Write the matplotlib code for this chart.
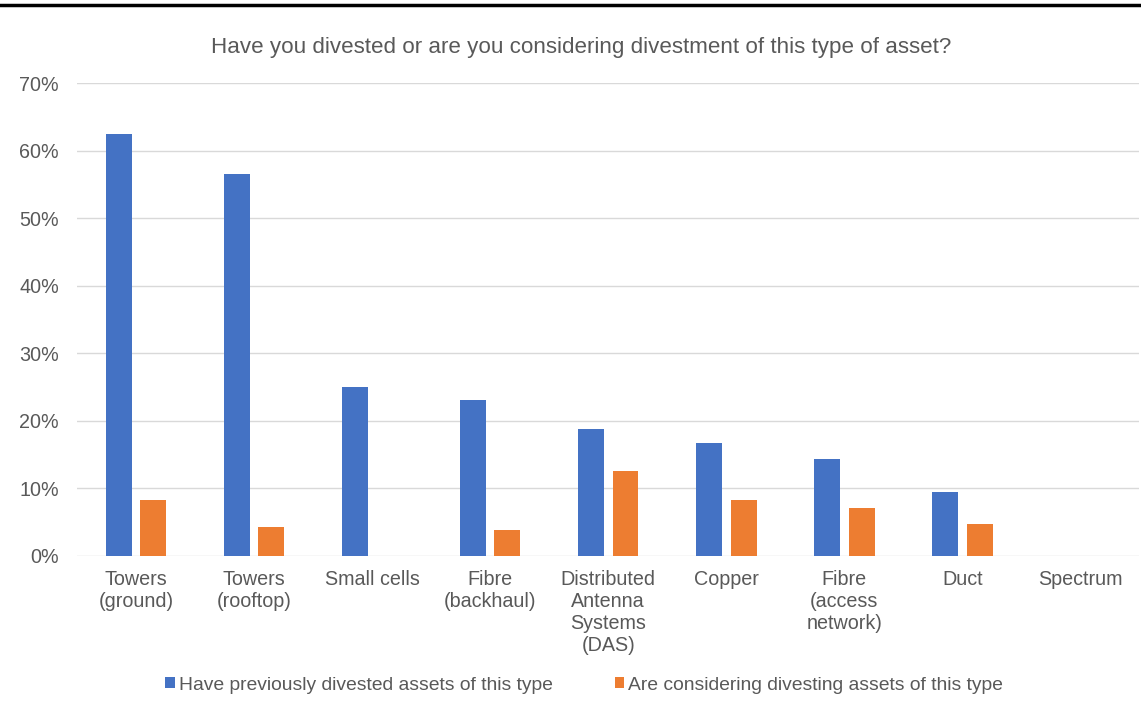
import numpy as np
import matplotlib.pyplot as plt
from matplotlib.lines import Line2D
from matplotlib.ticker import PercentFormatter

plt.rcParams['font.family'] = ['Liberation Sans', 'DejaVu Sans']

# survey results, percent of respondents
categories = ["Towers\n(ground)", "Towers\n(rooftop)", "Small cells", "Fibre\n(backhaul)",
              "Distributed\nAntenna\nSystems\n(DAS)", "Copper", "Fibre\n(access\nnetwork)",
              "Duct", "Spectrum"]
divested = [62.5, 56.5, 25.0, 23.1, 18.75, 16.7, 14.3, 9.5, 0.0]
considering = [8.3, 4.3, 0.0, 3.8, 12.5, 8.3, 7.1, 4.7, 0.0]

grey = '#595959'
blue = '#4472C4'
orange = '#ED7D31'

fig = plt.figure(figsize=(11.41, 7.22), dpi=100)
ax = fig.add_axes([0.0675, 0.23, 0.931, 0.655])

x = np.arange(len(categories))
w = 0.22
ax.bar(x - 0.147, divested, w, color=blue, label='Have previously divested assets of this type', zorder=3)
ax.bar(x + 0.147, considering, w, color=orange, label='Are considering divesting assets of this type', zorder=3)

ax.set_xlim(-0.5, len(categories) - 0.5)
ax.set_ylim(0, 70)
ax.set_yticks(np.arange(0, 71, 10))
ax.yaxis.set_major_formatter(PercentFormatter(decimals=0))
ax.set_xticks(x)
ax.set_xticklabels(categories, linespacing=1.2)
ax.tick_params(axis='both', length=0, labelsize=14.2, labelcolor=grey)
ax.tick_params(axis='x', pad=10)
ax.tick_params(axis='y', pad=13)
ax.grid(axis='y', color='#D9D9D9', linewidth=1, zorder=0)
for s in ax.spines.values():
    s.set_visible(False)

fig.text(0.509, 0.934, 'Have you divested or are you considering divestment of this type of asset?',
         ha='center', va='center', fontsize=16.1, color=grey)

leg = fig.legend(loc='center', bbox_to_anchor=(0.512, 0.051), ncol=2, frameon=False,
                 fontsize=13.9, handlelength=0.5, handleheight=0.5, handletextpad=0.2,
                 columnspacing=3.2)
for t in leg.get_texts():
    t.set_color(grey)

# rule across the top of the page
fig.add_artist(Line2D([0, 1], [0.993, 0.993], color='black', linewidth=2.5, transform=fig.transFigure))

fig.savefig('out.png', dpi=100)
